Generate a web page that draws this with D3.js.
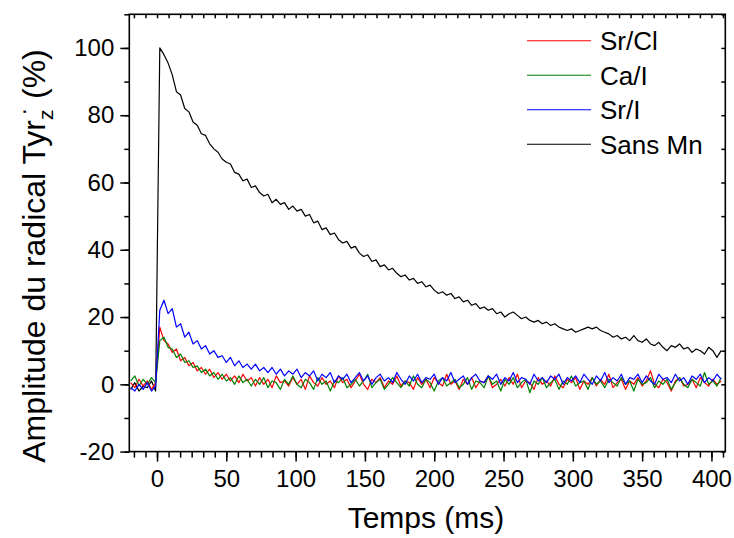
<!DOCTYPE html>
<html>
<head>
<meta charset="utf-8">
<script src="https://cdn.jsdelivr.net/npm/d3@7"></script>
<style>
  html, body { margin: 0; padding: 0; background: #fff; }
  svg { display: block; }
  text { font-family: "Liberation Sans", Arial, sans-serif; fill: #000; }
</style>
</head>
<body>
<svg id="chart" width="734" height="538"></svg>
<script>
// ---- data (time in ms, amplitude in %) ----
const tStart = -19, tStep = 3;
const sansMn = [
  -1.5, 0.5, -2, -0.5, -1, 1, -2, 100, 98, 95.5,
  92, 87, 86, 82, 81, 78, 77, 74.5, 74, 71.5,
  70, 69, 67, 66, 65.5, 63, 62.5, 60.5, 61, 58.5,
  59, 57, 56, 56.5, 54, 55, 53.5, 54, 52, 53,
  51.5, 52, 50, 50.5, 48, 48.5, 46, 46.5, 44.5, 45,
  43, 42, 42.5, 40.5, 41, 39, 38, 38.5, 36.5, 37,
  35, 35.5, 34, 34.5, 33, 32, 32.5, 31, 31.5, 30,
  30.5, 29, 29.5, 28, 27, 27.5, 26.5, 27, 25.5, 26,
  24.5, 25, 23.5, 24, 22.5, 23, 22, 22.5, 21, 21.5,
  20, 21, 21.5, 20.5, 19.5, 20, 19, 18.5, 19, 18,
  18.5, 17.5, 18, 17, 16.5, 16, 16.5, 15.5, 16, 16.5,
  17, 16.5, 17, 16, 15.5, 15, 14, 14.5, 13.5, 14,
  13, 14.5, 13, 12.5, 13.5, 12, 11.5, 12.5, 11, 10,
  11.5, 11, 12, 10.5, 11, 9.5, 10.5, 10, 9, 11,
  10, 8, 10
];
const srCl = [
  0.5, -1, 1.5, -0.5, 1, -1.5, 0.5, 17, 13, 12,
  9.5, 10.5, 7, 8, 5.5, 6.5, 4, 5, 3, 4.5,
  2, 3.5, 1.5, 3, 1, 2.5, 0.5, 3, 1, 2,
  -0.5, 2, 0, 1.5, -1, 2.5, 0.5, 1, -0.5, 2,
  0, 1.5, -1.5, 2.5, 0.5, -0.5, 2, 0, 1, -1,
  2.5, 0.5, 1.5, -1, 1, 3, 0, -1.5, 1.5, 0.5,
  2, -1, 1, 0, 2.5, -0.5, 1, 0.5, -1.5, 2,
  0, 1.5, -1, 2, 0.5, -0.5, 3, 0, 1, -1.5,
  1.5, 0, 2, -1, 1, 0.5, 2.5, -1, 0, 1.5,
  -0.5, 2, 0, 3, -1, 1, 0.5, -1.5, 2, 0,
  1, -0.5, 2.5, 0, -1, 1.5, 0.5, 2, -1.5, 1,
  0, 2, -0.5, 1.5, 0, 3, -1, 0.5, 1.5, -1.5,
  1, 0, 2, -0.5, 1, 4, 0, -1, 1.5, 0.5,
  -2, 1, 2, -0.5, 0, 1.5, -1, 2, 0.5, -0.5,
  1.5, 0, 1
];
const caI = [
  1, 2.5, -0.5, 1.5, 0, 2, 0.5, 13, 14, 11,
  10.5, 8, 9, 6.5, 7, 5, 5.5, 3.5, 4.5, 2.5,
  3.5, 1.5, 3, 1, 2, 0, 2.5, 0.5, 1.5, -0.5,
  1.5, 0, 2, -1, 1, 0.5, -1.5, 1.5, 0, 2.5,
  0, -1, 1.5, 0.5, -1.5, 2, 0, 1, -2, 1,
  0.5, 2, -1, 0, 1.5, -0.5, 1, 3, -1, 0.5,
  1.5, -1.5, 0, 2, 0.5, -1, 1, -0.5, 2.5, 0,
  -1, 1.5, 0.5, -2, 1, 2, -0.5, 0.5, 1.5, -1,
  0, 2, -1.5, 1, 0.5, -1, 2.5, 0, 1, -2,
  1.5, 0, 2, -1, 0.5, 1.5, -2.5, 1, 0, 2,
  -1, 0.5, 1.5, -1.5, 1, 0, 2.5, -0.5, 0.5, 1,
  -1.5, 2, 0, 1, -1, 1.5, 0.5, -0.5, 2, 0,
  1, -2, 1.5, 0, 0.5, 2, -1, 1, 0, 1.5,
  -1.5, 0.5, 2, 0, -1, 1.5, 0.5, -0.5, 3.5, 0,
  1, -0.5, 2
];
const srI = [
  -1, -2, 0, -1.5, 0.5, -2, -0.5, 22, 25, 21,
  22.5, 17, 18, 14, 15.5, 12, 13, 10.5, 11.5, 9,
  10, 8, 8.5, 6.5, 8, 5.5, 7, 5, 6, 4.5,
  6, 4, 5, 3.5, 5, 3, 4.5, 2.5, 4, 3,
  4.5, 2, 3.5, 2.5, 4, 1, 3, 2, 3.5, 0.5,
  2.5, 1.5, 3, 0.5, 2, 3.5, 1, 2.5, 0, 2,
  3, 1, 2, 0.5, 3.5, 1.5, 0, 2.5, 1, 3,
  0.5, 2, 1.5, 3, 0, 2, 1, 3.5, 0.5, 1.5,
  2.5, 0, 2, 3, 1, 0.5, 2.5, 1.5, 3, 0,
  2, 1, 3.5, 0.5, 2, 1.5, 0, 3, 1, 2,
  0.5, 2.5, 1.5, 3, 0, 2, 1, 2.5, 0.5, 3,
  1.5, 0, 2.5, 1, 3.5, 0.5, 2, 1, 3, 0,
  2, 1.5, 3, 0.5, 2.5, 1, 0, 3, 1.5, 2,
  0.5, 3, 1, 2, 0, 2.5, 1.5, 3, 0.5, 2,
  1, 3, 1.5
];
const seriesNames = ["Sr/Cl", "Ca/I", "Sr/I", "Sans Mn"];
const seriesColors = ["#ff0000", "#008000", "#0000ff", "#000000"];
const xTicks = [0, 50, 100, 150, 200, 250, 300, 350, 400];
const yTicks = [-20, 0, 20, 40, 60, 80, 100];

// ---- layout ----
const svg = d3.select("#chart");
const L = 129.3, R = 725.3, T = 14.3, B = 451.6;
const x = d3.scaleLinear().domain([-20, 410]).range([L, R]);
const y = d3.scaleLinear().domain([-20, 110]).range([B, T]);
const times = srCl.map((_, i) => tStart + i * tStep);

const dataBySeries = {
  "Sr/Cl": srCl, "Ca/I": caI, "Sr/I": srI, "Sans Mn": sansMn
};

// ---- curves ----
const line = d3.line().x(d => x(d[0])).y(d => y(d[1]));
const g = svg.append("g");
const drawOrder = ["Sans Mn", "Sr/Cl", "Ca/I", "Sr/I"];
drawOrder.forEach(name => {
  const vals = dataBySeries[name];
  const pts = vals.map((v, i) => [times[i], v]);
  g.append("path")
    .attr("d", line(pts))
    .attr("fill", "none")
    .attr("stroke", seriesColors[seriesNames.indexOf(name)])
    .attr("stroke-width", 1.2)
    .attr("stroke-linejoin", "round");
});

// ---- axes ----
const minorX = d3.range(-2, 50).map(k => k * 50 / 6).filter(v => v > -20 && v < 410);
const minorY = d3.range(-20, 111, 10);
const fmt = d => String(d);

function styleAxis(sel) {
  sel.select(".domain").remove();
  sel.selectAll(".tick line").attr("stroke", "#000").attr("stroke-width", 1.5);
  sel.selectAll(".tick text").attr("fill", "#000")
    .style("font-family", '"Liberation Sans", Arial, sans-serif');
}

// bottom minor
svg.append("g").attr("transform", `translate(0,${B})`)
  .call(d3.axisBottom(x).tickValues(minorX).tickSize(6).tickFormat(""))
  .call(styleAxis);
// bottom major
svg.append("g").attr("transform", `translate(0,${B})`)
  .call(d3.axisBottom(x).tickValues(xTicks).tickSize(10).tickPadding(8).tickFormat(fmt))
  .call(styleAxis)
  .call(s => s.selectAll(".tick text").style("font-size", "24px"));
// top (inward)
svg.append("g").attr("transform", `translate(0,${T})`)
  .call(d3.axisBottom(x).tickValues(minorX).tickSize(4).tickFormat(""))
  .call(styleAxis);
// left minor
svg.append("g").attr("transform", `translate(${L},0)`)
  .call(d3.axisLeft(y).tickValues(minorY).tickSize(5).tickFormat(""))
  .call(styleAxis);
// left major
svg.append("g").attr("transform", `translate(${L},0)`)
  .call(d3.axisLeft(y).tickValues(yTicks).tickSize(9).tickPadding(6).tickFormat(fmt))
  .call(styleAxis)
  .call(s => s.selectAll(".tick text").style("font-size", "24px"));
// right (inward)
svg.append("g").attr("transform", `translate(${R},0)`)
  .call(d3.axisLeft(y).tickValues(minorY).tickSize(4).tickFormat(""))
  .call(styleAxis);

// frame
svg.append("rect")
  .attr("x", L).attr("y", T).attr("width", R - L).attr("height", B - T)
  .attr("fill", "none").attr("stroke", "#000").attr("stroke-width", 1.6);

// ---- titles ----
svg.append("text")
  .attr("x", 426).attr("y", 528)
  .attr("text-anchor", "middle")
  .style("font-size", "30px")
  .text("Temps (ms)");

const yt = svg.append("text")
  .attr("transform", "translate(45,256) rotate(-90)")
  .attr("text-anchor", "middle")
  .style("font-size", "32px");
yt.append("tspan").text("Amplitude du radical Tyr");
yt.append("tspan").attr("dy", 8).style("font-size", "21px").text("z");
yt.append("tspan").attr("dy", -22).attr("dx", -6).style("font-size", "23px").text("·");
yt.append("tspan").attr("dy", 14).text(" (%)");

// ---- legend ----
const legend = svg.append("g");
const legendRowY = d3.scaleBand().domain(seriesNames).range([23.5, 161.5]);
seriesNames.forEach((name, i) => {
  const cy = legendRowY(name) + legendRowY.bandwidth() / 2;
  legend.append("line")
    .attr("x1", 527).attr("x2", 591).attr("y1", cy).attr("y2", cy)
    .attr("stroke", seriesColors[i]).attr("stroke-width", 1.2);
  legend.append("text")
    .attr("x", 600).attr("y", cy + 9.5)
    .style("font-size", "26px")
    .text(name);
});
</script>
</body>
</html>
